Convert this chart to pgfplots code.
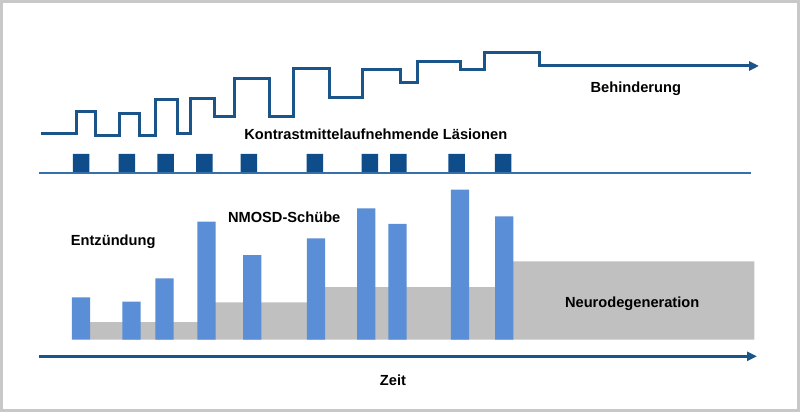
\documentclass[border=0pt]{standalone}
\usepackage{pgfplots}
\pgfplotsset{compat=1.18}
\usepackage{fontspec}
\setmainfont{Liberation Sans}
\usetikzlibrary{arrows.meta}

\definecolor{stairblue}{HTML}{1B5488}
\definecolor{lesionblue}{HTML}{0E4C8A}
\definecolor{baseblue}{HTML}{3570AA}
\definecolor{barblue}{HTML}{5A8ED6}
\definecolor{neurogray}{HTML}{C0C0C0}
\definecolor{framegray}{HTML}{C8C8C8}

% one unit = one pixel of the 800x413 reference
\pgfplotsset{
  canvas/.style={
    scale only axis, width=800bp, height=413bp,
    xmin=0, xmax=800, hide axis, clip=false,
  },
}
\tikzset{
  lbl/.style={font=\fontsize{14.7}{17}\selectfont\bfseries, inner sep=0pt},
  tip/.style={-{Triangle[length=10bp,width=9bp]}},
}

\begin{document}
\begin{tikzpicture}

% lower part: baseline of the bars at y=0
\begin{axis}[canvas, ymin=-72.3, ymax=340.7]
\draw[framegray, line width=3bp] (axis cs:1.5,338.2) rectangle (axis cs:798.5,-70.8);

% Neurodegeneration (grey steps)
\addplot[const plot, fill=neurogray, draw=none] coordinates {
  (90,17.7) (206,37.4) (316,52.7) (504,78.4) (754.3,78.4)
} \closedcycle;

% NMOSD-Schuebe
\addplot[ybar, bar width=18.3, bar shift=0pt, fill=barblue, draw=none] coordinates {
  (80.9,42.4) (131.5,38.0) (164.5,61.4) (206.5,118.0) (252.2,84.7)
  (316.0,101.4) (366.2,131.4) (397.5,115.7) (460.0,150.0) (504.2,123.4)
};

% time axis
\addplot[stairblue, line width=3bp, tip] coordinates {
  (39,-16.6) (757,-16.6)
};

\node[lbl] at (axis cs:113.2,98) {Entzündung};
\node[lbl] at (axis cs:284.2,122.4) {NMOSD-Schübe};
\node[lbl] at (axis cs:393,-41) {Zeit};
\node[lbl] at (axis cs:632.2,35.7) {Neurodegeneration};
\end{axis}

% upper part: baseline of the lesion marks at y=0
\begin{axis}[canvas, ymin=-239.3, ymax=173.7]
% Kontrastmittelaufnehmende Laesionen
\addplot[ybar, bar width=16.5, bar shift=0pt, fill=lesionblue, draw=none] coordinates {
  (81.2,18.7) (126.9,18.7) (165.7,18.7) (204.3,18.7) (248.8,18.7)
  (314.8,18.7) (369.8,18.7) (398.3,18.7) (456.5,18.7) (503.2,18.7)
};
\addplot[baseblue, line width=2bp] coordinates {(39,0) (750.7,0)};

% Behinderung (staircase)
\addplot[const plot, stairblue, line width=3bp, line join=miter] coordinates {
  (40.7,38.7) (76.7,61.4) (95.7,37.0) (119,59.4) (139.3,37.4)
  (155,73.0) (177.7,39.0) (190.7,74.0) (214,55.7) (234.3,94.0)
  (269.3,55.7) (293,104.4) (329,74.7) (362.3,102.7) (400,90.4)
  (417.7,111.2) (460.3,103.4) (484,120.4) (539.3,106.7)
};
\addplot[stairblue, line width=3bp, tip] coordinates {
  (537.8,106.7) (759,106.7)
};

\node[lbl] at (axis cs:635.8,83.7) {Behinderung};
\node[lbl] at (axis cs:375.8,38.7) {Kontrastmittelaufnehmende Läsionen};
\end{axis}

\end{tikzpicture}
\end{document}
